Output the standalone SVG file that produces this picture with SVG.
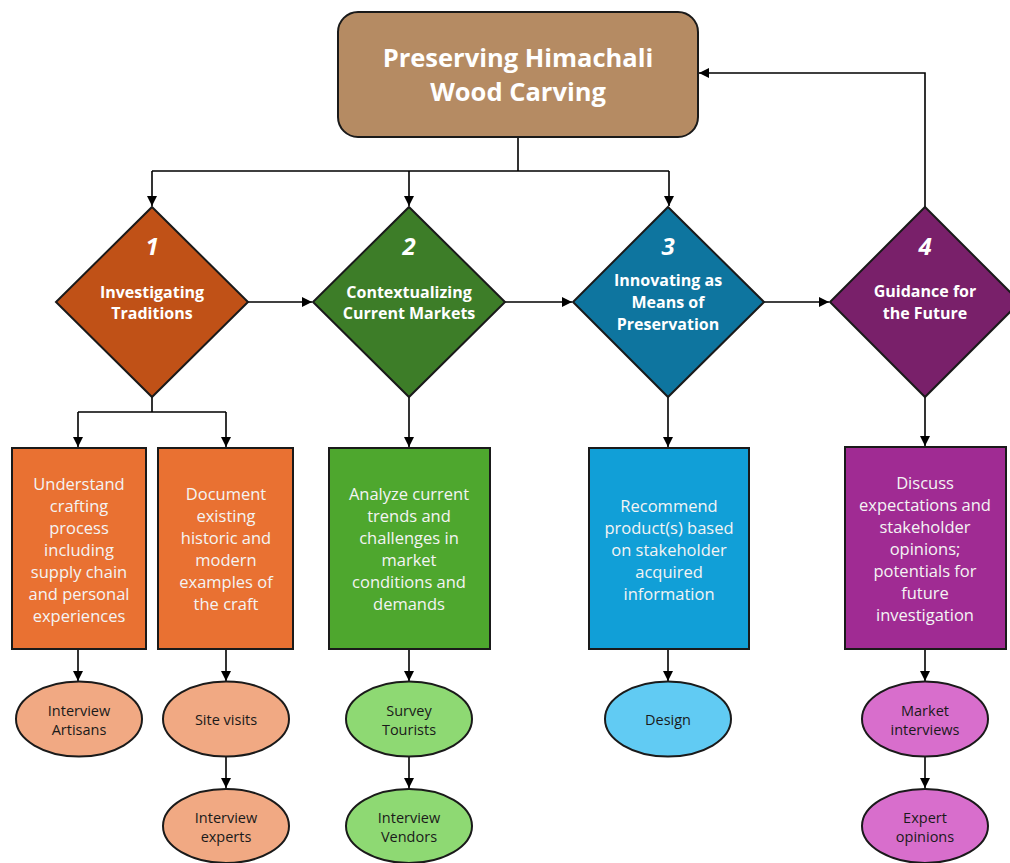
<svg xmlns="http://www.w3.org/2000/svg" width="1010" height="863" viewBox="0 0 1010 863">
<defs>
<marker id="ah" viewBox="0 0 10 10" refX="10" refY="5" markerWidth="10" markerHeight="10" markerUnits="userSpaceOnUse" orient="auto">
<path d="M0,0 L10,5 L0,10 z" fill="#000"/>
</marker>
<style>
.c{fill:none;stroke:#000;stroke-width:1.6}
.a{marker-end:url(#ah)}
.sh{stroke:#1a1a1a;stroke-width:2}
.t{font-family:"Open Sans","Noto Sans","Liberation Sans",sans-serif;text-anchor:middle;dominant-baseline:central}
.ttl{font-size:25.5px;font-weight:bold;fill:#fff}
.num{font-size:24px;font-weight:bold;font-style:italic;fill:#fff}
.dt{font-size:16px;font-weight:bold;fill:#fff}
.bt{font-size:16.5px;fill:#f4f4f4}
.et{font-size:14.5px;fill:#1a1a1a}
</style>
</defs>
<rect width="1010" height="863" fill="#fff"/>

<g id="connectors">
<path class="c" d="M518,137 V171 M152,171 H669"/>
<path class="c a" d="M152,171 V206"/>
<path class="c a" d="M409,171 V206"/>
<path class="c a" d="M669,171 V206"/>
<path class="c a" d="M925,207 V73 H699"/>
<path class="c a" d="M248,302 H312"/>
<path class="c a" d="M505,302 H572"/>
<path class="c a" d="M764,302 H829"/>
<path class="c" d="M152,397 V412 M78,412 H226"/>
<path class="c a" d="M78,412 V447"/>
<path class="c a" d="M226,412 V447"/>
<path class="c a" d="M409,397 V447"/>
<path class="c a" d="M668,397 V447"/>
<path class="c a" d="M925,397 V446"/>
<path class="c a" d="M78,649 V681"/>
<path class="c a" d="M226,649 V681"/>
<path class="c a" d="M409,649 V681"/>
<path class="c a" d="M668,649 V681"/>
<path class="c a" d="M925,649 V681"/>
<path class="c a" d="M226,757 V788"/>
<path class="c a" d="M409,757 V788"/>
<path class="c a" d="M925,757 V788"/>
</g>

<g id="title">
<rect class="sh" x="338" y="12" width="360" height="125" rx="20" fill="#B58B63"/>
<text class="t ttl" x="518" y="57">Preserving Himachali</text>
<text class="t ttl" x="518" y="91">Wood Carving</text>
</g>

<g id="d1">
<polygon class="sh" points="152,207 248,302 152,397 56,302" fill="#C05117"/>
<text class="t num" x="152" y="245">1</text>
<text class="t dt" x="152" y="292">Investigating</text>
<text class="t dt" x="152" y="313">Traditions</text>
</g>
<g id="d2">
<polygon class="sh" points="409,207 505,302 409,397 313,302" fill="#3D7D28"/>
<text class="t num" x="409" y="245">2</text>
<text class="t dt" x="409" y="292">Contextualizing</text>
<text class="t dt" x="409" y="313">Current Markets</text>
</g>
<g id="d3">
<polygon class="sh" points="668,207 764,302 668,397 573,302" fill="#0E759F"/>
<text class="t num" x="668" y="245">3</text>
<text class="t dt" x="668" y="280">Innovating as</text>
<text class="t dt" x="668" y="302">Means of</text>
<text class="t dt" x="668" y="324">Preservation</text>
</g>
<g id="d4">
<polygon class="sh" points="925,207 1020,302 925,397 830,302" fill="#79206A"/>
<text class="t num" x="925" y="245">4</text>
<text class="t dt" x="925" y="291">Guidance for</text>
<text class="t dt" x="925" y="313">the Future</text>
</g>

<g id="b1">
<rect class="sh" x="12" y="448" width="134" height="201" fill="#E97132"/>
<text class="t bt" x="79" y="483">Understand</text>
<text class="t bt" x="79" y="505">crafting</text>
<text class="t bt" x="79" y="527">process</text>
<text class="t bt" x="79" y="549">including</text>
<text class="t bt" x="79" y="571">supply chain</text>
<text class="t bt" x="79" y="593">and personal</text>
<text class="t bt" x="79" y="615">experiences</text>
</g>
<g id="b2">
<rect class="sh" x="158" y="448" width="135" height="201" fill="#E97132"/>
<text class="t bt" x="226" y="493">Document</text>
<text class="t bt" x="226" y="515">existing</text>
<text class="t bt" x="226" y="537">historic and</text>
<text class="t bt" x="226" y="559">modern</text>
<text class="t bt" x="226" y="581">examples of</text>
<text class="t bt" x="226" y="603">the craft</text>
</g>
<g id="b3">
<rect class="sh" x="329" y="448" width="161" height="201" fill="#4EA72E"/>
<text class="t bt" x="409" y="493">Analyze current</text>
<text class="t bt" x="409" y="515">trends and</text>
<text class="t bt" x="409" y="537">challenges in</text>
<text class="t bt" x="409" y="559">market</text>
<text class="t bt" x="409" y="581">conditions and</text>
<text class="t bt" x="409" y="603">demands</text>
</g>
<g id="b4">
<rect class="sh" x="589" y="448" width="160" height="201" fill="#119FD7"/>
<text class="t bt" x="669" y="505">Recommend</text>
<text class="t bt" x="669" y="527">product(s) based</text>
<text class="t bt" x="669" y="549">on stakeholder</text>
<text class="t bt" x="669" y="571">acquired</text>
<text class="t bt" x="669" y="593">information</text>
</g>
<g id="b5">
<rect class="sh" x="845" y="447" width="161" height="202" fill="#A02B93"/>
<text class="t bt" x="925" y="482">Discuss</text>
<text class="t bt" x="925" y="504">expectations and</text>
<text class="t bt" x="925" y="526">stakeholder</text>
<text class="t bt" x="925" y="548">opinions;</text>
<text class="t bt" x="925" y="570">potentials for</text>
<text class="t bt" x="925" y="592">future</text>
<text class="t bt" x="925" y="614">investigation</text>
</g>

<g id="e1">
<ellipse class="sh" cx="79" cy="719" rx="63" ry="37.5" fill="#F1A983"/>
<text class="t et" x="79" y="710">Interview</text>
<text class="t et" x="79" y="729">Artisans</text>
</g>
<g id="e2">
<ellipse class="sh" cx="226" cy="719" rx="63" ry="37.5" fill="#F1A983"/>
<text class="t et" x="226" y="719">Site visits</text>
</g>
<g id="e3">
<ellipse class="sh" cx="226" cy="826" rx="63" ry="37" fill="#F1A983"/>
<text class="t et" x="226" y="817">Interview</text>
<text class="t et" x="226" y="836">experts</text>
</g>
<g id="e4">
<ellipse class="sh" cx="409" cy="719" rx="63" ry="37.5" fill="#8ED973"/>
<text class="t et" x="409" y="710">Survey</text>
<text class="t et" x="409" y="729">Tourists</text>
</g>
<g id="e5">
<ellipse class="sh" cx="409" cy="826" rx="63" ry="37" fill="#8ED973"/>
<text class="t et" x="409" y="817">Interview</text>
<text class="t et" x="409" y="836">Vendors</text>
</g>
<g id="e6">
<ellipse class="sh" cx="668" cy="719" rx="63" ry="37.5" fill="#61CBF3"/>
<text class="t et" x="668" y="719">Design</text>
</g>
<g id="e7">
<ellipse class="sh" cx="925" cy="719" rx="63" ry="37.5" fill="#D86ECC"/>
<text class="t et" x="925" y="710">Market</text>
<text class="t et" x="925" y="729">interviews</text>
</g>
<g id="e8">
<ellipse class="sh" cx="925" cy="826" rx="63" ry="37" fill="#D86ECC"/>
<text class="t et" x="925" y="817">Expert</text>
<text class="t et" x="925" y="836">opinions</text>
</g>
</svg>
